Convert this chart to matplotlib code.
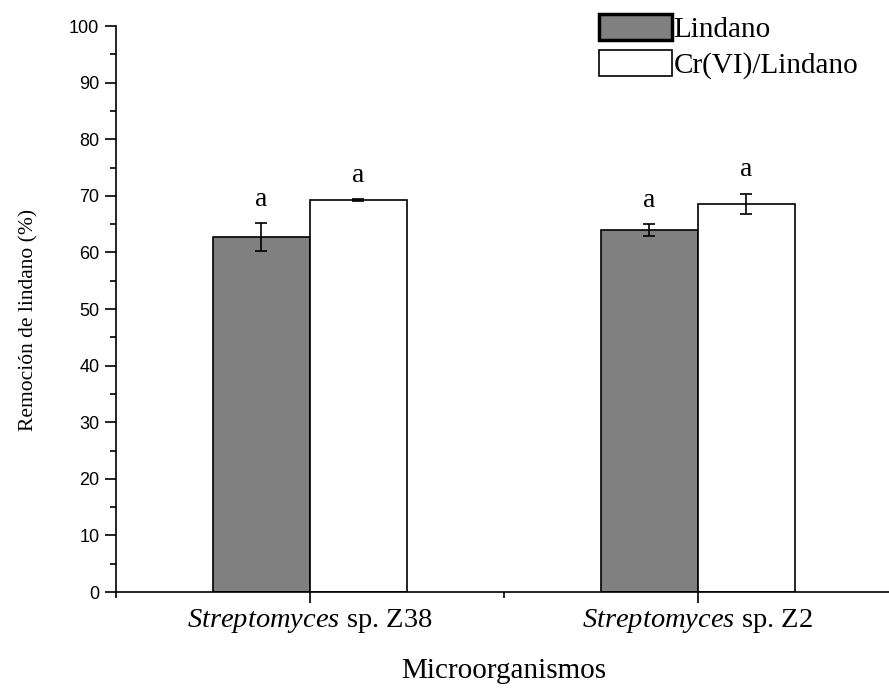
import matplotlib.pyplot as plt
import numpy as np
from matplotlib.ticker import MultipleLocator, FixedLocator

plt.rcParams['font.family'] = 'Liberation Serif'
plt.rcParams['mathtext.fontset'] = 'custom'
plt.rcParams['mathtext.rm'] = 'Liberation Serif'
plt.rcParams['mathtext.it'] = 'Liberation Serif:italic'

# lindane removal (%) per strain, alone and with Cr(VI)
strains = [r'$\mathit{Streptomyces}$ sp. Z38', r'$\mathit{Streptomyces}$ sp. Z2']
lindano = [62.7, 63.9]
lindano_err = [2.5, 1.05]
cr_lindano = [69.2, 68.6]
cr_lindano_err = [0.2, 1.8]
letters_lindano = ['a', 'a']
letters_cr = ['a', 'a']

x = np.arange(1, len(strains) + 1)
w = 0.25

fig = plt.figure(figsize=(8.89, 6.88), dpi=100)
ax = fig.add_axes([0.1305, 0.1395, 0.8725, 0.8227])

err_kw = dict(ecolor='black', elinewidth=1.2, capsize=4, capthick=1.2)
b1 = ax.bar(x - w / 2, lindano, w, yerr=lindano_err, color='#808080',
            edgecolor='black', linewidth=1.2, label='Lindano', error_kw=err_kw)
b2 = ax.bar(x + w / 2, cr_lindano, w, yerr=cr_lindano_err, color='white',
            edgecolor='black', linewidth=1.2, label='Cr(VI)/Lindano', error_kw=err_kw)

for xi, v, e, t in zip(x - w / 2, lindano, lindano_err, letters_lindano):
    ax.text(xi, v + e + 4.2, t, ha='center', va='center', fontsize=20)
for xi, v, e, t in zip(x + w / 2, cr_lindano, cr_lindano_err, letters_cr):
    ax.text(xi, v + e + 4.2, t, ha='center', va='center', fontsize=20)

ax.set_xlim(0.5, 2.5)
ax.set_ylim(0, 100)
ax.spines['top'].set_visible(False)
ax.spines['right'].set_visible(False)
for s in ('left', 'bottom'):
    ax.spines[s].set_linewidth(1.2)

ax.set_xticks(x)
ax.set_xticklabels(strains, fontsize=20.5)
ax.xaxis.set_minor_locator(FixedLocator([0.5, 1.5, 2.5]))
ax.yaxis.set_major_locator(MultipleLocator(10))
ax.yaxis.set_minor_locator(MultipleLocator(5))
ax.tick_params(axis='both', which='major', direction='out', length=8, width=1.2)
ax.tick_params(axis='both', which='minor', direction='out', length=4, width=1.2)
ax.tick_params(axis='x', pad=3)
ax.tick_params(axis='y', pad=4)
for lbl in ax.get_yticklabels():
    lbl.set_fontfamily('Liberation Sans')
    lbl.set_fontsize(13)

ax.set_xlabel('Microorganismos', fontsize=21, labelpad=16)
ax.set_ylabel('Remoción de lindano (%)', fontsize=15.5)
ax.yaxis.set_label_coords(-0.10, 0.48)

leg = ax.legend(loc='upper left', bbox_to_anchor=(0.674, 0.98),
                bbox_transform=fig.transFigure, frameon=False, fontsize=21,
                handlelength=2.5, handleheight=1.0, handletextpad=0.05,
                labelspacing=0.25, borderpad=0, borderaxespad=0)
leg.legend_handles[0].set_linewidth(2.5)

fig.savefig('out.png', dpi=100)
